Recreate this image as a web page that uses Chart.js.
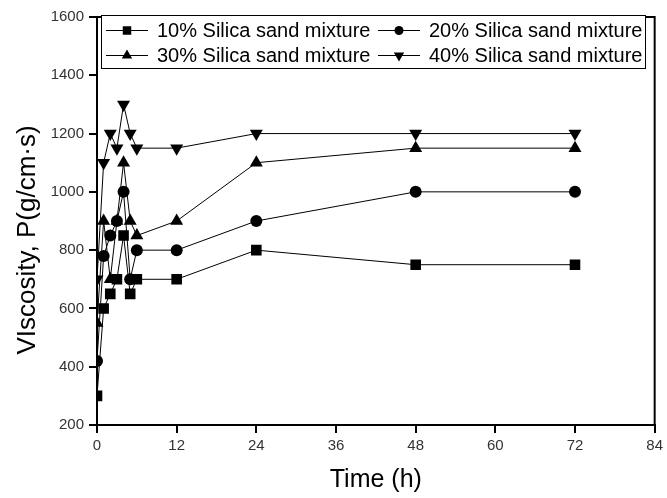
<!DOCTYPE html>
<html>
<head>
<meta charset="utf-8">
<script src="https://cdn.jsdelivr.net/npm/chart.js@4/dist/chart.umd.min.js"></script>
<style>
	html, body { margin: 0; padding: 0; background: #fff; }
	#wrap { width: 667px; height: 498px; }
</style>
</head>
<body>
<div id="wrap"><canvas id="chart" width="667" height="498"></canvas></div>
<script>
// Sampling times (h).
const times = [0, 1, 2, 3, 4, 5, 6, 12, 24, 48, 72];

// Viscosity values per mixture.
const silica10 = [300, 600, 650, 700, 850, 650, 700, 700, 800, 750, 750];
const silica20 = [420, 780, 850, 900, 1000, 700, 800, 800, 900, 1000, 1000];
const silica30 = [550, 900, 700, 900, 1100, 900, 850, 900, 1100, 1150, 1150];
const silica40 = [700, 1100, 1200, 1150, 1300, 1200, 1150, 1150, 1200, 1200, 1200];

const seriesLabels = ["10% Silica sand mixture", "20% Silica sand mixture", "30% Silica sand mixture", "40% Silica sand mixture"];

// Axis ticks.
const xTicks = [0, 12, 24, 36, 48, 60, 72, 84];
const yTicks = [200, 400, 600, 800, 1000, 1200, 1400, 1600];

const yTitle = 'VIscosity, P(g/cm·s)';
const font = "'Liberation Sans', Arial, sans-serif";

// Make a dataset from a series with the given marker.
function makeDataset(label, values, style, radius, rotation) {
	return {
		label: label,
		data: times.map((t, i) => ({ x: t, y: values[i] })),
		borderColor: '#000',
		backgroundColor: '#000',
		borderWidth: 1,
		pointStyle: style,
		pointRadius: radius,
		pointRotation: rotation,
		pointBorderWidth: 0,
		pointBackgroundColor: '#000',
		tension: 0
	};
}

// Frame around the plot, the y title and the boxed legend in the top of it.
const framePlugin = {
	id: 'frame',
	afterDraw(chart) {
		const ctx = chart.ctx;
		const a = chart.chartArea;
		ctx.save();
		ctx.strokeStyle = '#000';
		ctx.lineWidth = 2;
		ctx.strokeRect(a.left, a.top, a.right - a.left, a.bottom - a.top);

		// Y axis title, a bit below the middle as in the original.
		ctx.save();
		ctx.translate(28, 240);
		ctx.rotate(-Math.PI / 2);
		ctx.font = "26px " + font;
		ctx.fillStyle = '#000';
		ctx.textAlign = 'center';
		ctx.textBaseline = 'middle';
		ctx.fillText(yTitle, 0, 0);
		ctx.restore();

		// Legend box.
		const box = { x: 101, y: 15, w: 544, h: 53 };
		ctx.fillStyle = '#fff';
		ctx.fillRect(box.x, box.y, box.w, box.h);
		ctx.lineWidth = 1;
		ctx.strokeRect(box.x + 0.5, box.y + 0.5, box.w, box.h);

		const cols = [106, 378];
		const rows = [30, 55];
		ctx.font = "20px " + font;
		ctx.textBaseline = 'middle';
		chart.data.datasets.forEach(function (ds, i) {
			const x = cols[i % 2];
			const y = rows[Math.floor(i / 2)];
			ctx.strokeStyle = '#000';
			ctx.fillStyle = '#000';
			ctx.lineWidth = 1;
			ctx.beginPath();
			ctx.moveTo(x, y + 0.5);
			ctx.lineTo(x + 42, y + 0.5);
			ctx.stroke();
			Chart.helpers.drawPoint(ctx, {
				pointStyle: ds.pointStyle,
				radius: ds.pointRadius - 1.5,
				rotation: ds.pointRotation,
				borderWidth: 0
			}, x + 21, y + 0.5);
			ctx.fillText(ds.label, x + 51, y + 1);
		});
		ctx.restore();
	}
};

const chart = new Chart(document.querySelector('#chart'), {
	type: 'line',
	data: {
		datasets: [
			makeDataset(seriesLabels[0], silica10, 'rect', 7.5, 0),
			makeDataset(seriesLabels[1], silica20, 'circle', 6, 0),
			makeDataset(seriesLabels[2], silica30, 'triangle', 7.5, 0),
			makeDataset(seriesLabels[3], silica40, 'triangle', 7.5, 180)
		]
	},
	options: {
		responsive: false,
		animation: false,
		layout: { padding: { top: 17, right: 12, left: 0, bottom: 0 } },
		plugins: { legend: { display: false }, tooltip: { enabled: false } },
		scales: {
			x: {
				type: 'linear',
				min: 0,
				max: 84,
				afterBuildTicks: function (scale) { scale.ticks = xTicks.map(v => ({ value: v })); },
				afterFit: function (scale) { scale.height = 73; },
				ticks: { color: '#333', font: { family: font, size: 15 }, padding: 4, maxRotation: 0 },
				grid: { display: true, drawOnChartArea: false, drawTicks: true, tickLength: 8, color: '#000', lineWidth: 2 },
				border: { display: true, color: '#000', width: 2 },
				title: { display: true, text: 'Time (h)', color: '#000', font: { family: font, size: 25 }, padding: { top: 0, bottom: 3 } }
			},
			y: {
				type: 'linear',
				min: 200,
				max: 1600,
				afterBuildTicks: function (scale) { scale.ticks = yTicks.map(v => ({ value: v })); },
				afterFit: function (scale) { scale.width = 97; },
				ticks: { color: '#333', font: { family: font, size: 15 }, padding: 5, callback: v => String(v) },
				grid: { display: true, drawOnChartArea: false, drawTicks: true, tickLength: 8, color: '#000', lineWidth: 2 },
				border: { display: true, color: '#000', width: 2 },
				title: { display: false }
			}
		}
	},
	plugins: [framePlugin]
});
</script>
</body>
</html>
